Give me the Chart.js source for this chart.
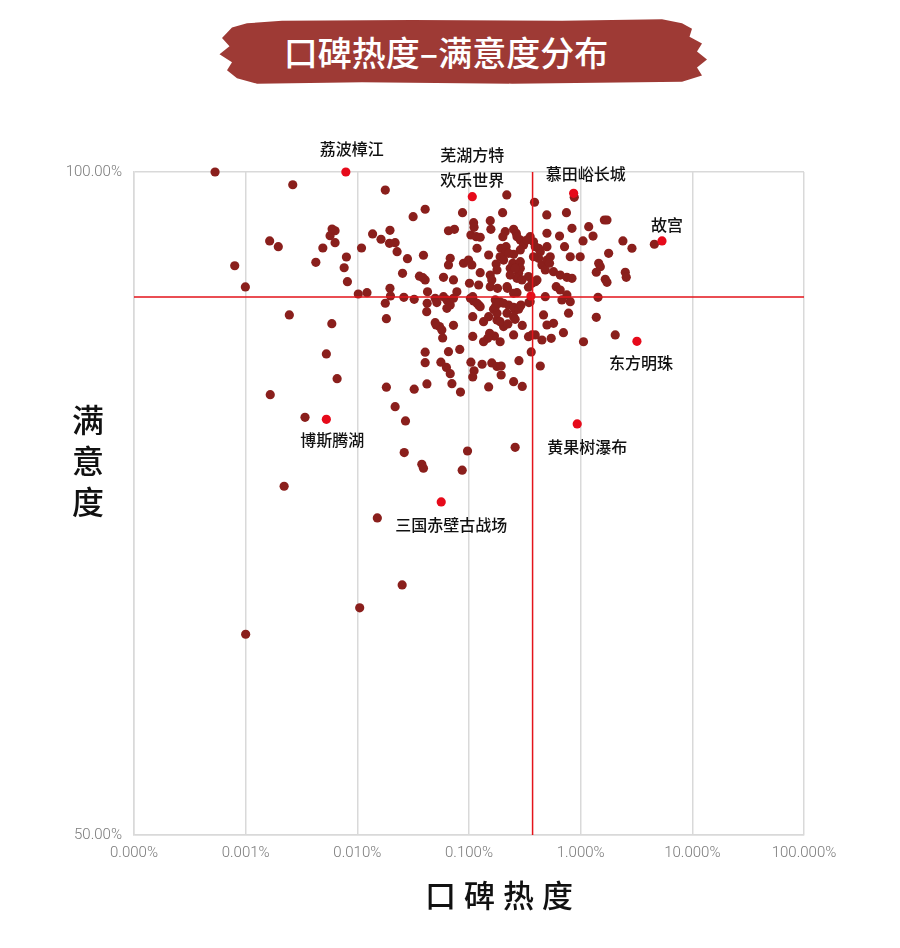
<!DOCTYPE html>
<html>
<head>
<meta charset="utf-8">
<script src="https://cdn.jsdelivr.net/npm/chart.js@4.4.1/dist/chart.umd.min.js"></script>
<style>
  body { margin:0; background:#fff; width:900px; height:948px; position:relative; overflow:hidden;
         font-family:"Noto Sans CJK SC", sans-serif; }
  #banner { position:absolute; left:212px; top:18px; width:500px; height:67px; background:#9e3a35;
            clip-path:polygon(4% 14%, 7% 8%, 14% 4%, 40% 3%, 70% 4%, 90% 2%, 94% 8%, 96% 16%, 95.5% 28%, 98% 38%, 97% 50%,
                              99% 62%, 97% 74%, 98% 86%, 94% 95%, 60% 98%, 30% 96%, 9% 98%, 5% 90%,
                              3% 78%, 4% 66%, 1.5% 54%, 3.5% 42%, 2% 30%); }
  #title { position:absolute; left:222px; top:20px; width:448px; height:64px; line-height:64px;
           text-align:center; color:#fff; font-size:34px; font-weight:500; }
  #wrap { position:absolute; left:0; top:0; width:900px; height:948px; }
  #xTitle { position:absolute; left:0; top:871px; width:1006px; text-align:center;
            font-size:31px; font-weight:500; letter-spacing:8px; color:#111; }
  #yTitle { position:absolute; left:65px; top:404px; writing-mode:vertical-rl;
            font-size:32px; font-weight:500; letter-spacing:9px; color:#111; }
</style>
</head>
<body>
<div id="banner"></div>
<div id="title">口碑热度–满意度分布</div>
<div id="wrap"><canvas id="chart" width="900" height="948"></canvas></div>
<div id="xTitle">口碑热度</div>
<div id="yTitle">满意度</div>

<script>
// x = 口碑热度 (%), y = 满意度 (%)
const xTicks = [0.0001, 0.001, 0.01, 0.1, 1, 10, 100];
const heatAvg = 0.371;
const satAvg  = 90.57;

const heatPct = [
  0.000532, 0.00264, 0.00164, 0.00196, 0.000798, 0.000994, 0.00246, 0.00591, 0.00425, 0.00491,
  0.00632, 0.0057, 0.00632, 0.00594, 0.00528, 0.00659, 0.00166, 0.0034, 0.00815, 0.0102,
  0.0122, 0.00798, 0.00762, 0.0178, 0.0137, 0.0163, 0.0196, 0.0194, 0.0218, 0.0227,
  0.0109, 0.0281, 0.0391, 0.0254, 0.036, 0.0405, 0.0316, 0.0405, 0.0196, 0.0198,
  0.0178, 0.0182, 0.0261, 0.0323, 0.0422, 0.0418, 0.0405, 0.0405, 0.042, 0.0182,
  0.0323, 0.0218, 0.027, 0.0263, 0.0378, 0.0391, 0.097, 0.0869, 0.259, 0.0151,
  0.00221, 0.0252, 0.0105, 0.001, 0.0386, 0.0875, 0.218, 0.386, 0.2, 0.497,
  0.746, 0.11, 0.111, 0.104, 0.116, 0.126, 0.155, 0.157, 0.0655, 0.0741,
  0.211, 0.201, 0.251, 0.265, 0.118, 0.15, 0.193, 0.215, 0.211, 0.19,
  0.204, 0.288, 0.308, 0.288, 0.353, 0.378, 0.42, 0.435, 0.499, 0.499,
  0.251, 0.247, 0.288, 0.288, 0.278, 0.269, 0.341, 0.392, 0.42, 0.45,
  0.482, 0.499, 0.0679, 0.0655, 0.0893, 0.099, 0.106, 0.175, 0.178, 0.126,
  0.155, 0.16, 0.155, 0.234, 0.234, 0.101, 0.122, 0.18, 0.221, 0.0591,
  0.0726, 0.0779, 0.269, 0.341, 0.482, 0.0498, 0.0515, 0.0634, 0.0679, 0.0726,
  0.103, 0.11, 0.122, 0.172, 0.19, 0.226, 0.288, 0.0634, 0.0591, 1.63,
  1.72, 1.18, 0.836, 0.647, 1.05, 1.29, 2.39, 2.88, 1.78, 0.717,
  0.807, 0.99, 1.45, 1.5, 1.38, 2.51, 2.56, 1.66, 1.72, 0.534,
  0.526, 0.571, 0.656, 0.753, 0.836, 0.604, 0.656, 0.753, 0.807, 0.679,
  1.43, 0.779, 0.465, 1.38, 0.499, 0.571, 0.701, 2.04, 0.392, 0.226,
  0.269, 0.33, 0.378, 0.406, 0.366, 0.259, 0.298, 0.219, 0.251, 0.219,
  0.259, 0.353, 0.366, 0.251, 0.204, 1.06, 0.545, 0.45, 0.392, 0.341,
  0.361, 0.435, 0.3, 0.251, 0.28, 0.3, 0.251, 0.19, 0.169, 0.153,
  0.147, 0.135, 0.135, 0.15, 0.166, 0.178, 0.19, 0.108, 0.108, 0.108,
  0.104, 0.131, 0.16, 0.178, 0.194, 0.194, 0.111, 0.108, 0.15, 0.0826,
  0.0655, 0.0726, 0.0581, 0.0508, 0.0544, 0.0498, 0.0571, 0.056, 0.0628, 0.0679,
  0.0703, 0.0839, 0.0425, 0.126, 0.118, 0.178, 0.172, 0.184, 0.204, 0.251,
  0.278, 0.292, 0.344, 0.223, 0.259, 0.876, 4.57
];
const satisfaction = [
  100, 99.04, 94.80, 94.37, 92.93, 91.33, 89.22, 88.56, 93.19, 94.27,
  95.57, 95.20, 94.67, 95.70, 86.28, 84.41, 83.21, 81.50, 91.73, 90.80,
  90.90, 93.59, 92.78, 98.64, 95.33, 94.93, 95.60, 94.62, 94.67, 93.99,
  94.27, 93.46, 93.72, 92.36, 92.14, 91.86, 96.63, 97.19, 91.23, 90.65,
  90.10, 88.94, 90.55, 90.40, 90.10, 89.47, 86.41, 85.62, 84.02, 83.77,
  83.62, 82.30, 81.23, 78.84, 77.96, 77.66, 78.96, 77.51, 79.24, 73.91,
  76.30, 68.86, 67.13, 65.14, 92.03, 96.93, 98.27, 97.72, 96.93, 96.76,
  96.93, 96.18, 95.83, 95.25, 95.12, 95.08, 96.33, 95.68, 95.57, 95.68,
  95.50, 95.12, 95.68, 95.38, 94.25, 93.74, 94.25, 94.37, 93.87, 93.61,
  93.36, 94.87, 94.50, 94.12, 95.12, 94.74, 94.25, 93.99, 95.38, 94.37,
  93.79, 93.12, 93.24, 92.74, 92.36, 91.98, 92.11, 91.73, 93.49, 92.99,
  92.61, 93.36, 93.49, 92.99, 93.12, 93.36, 92.99, 93.06, 92.61, 92.41,
  92.23, 91.86, 91.35, 92.74, 92.23, 91.61, 91.48, 91.23, 91.23, 92.06,
  91.86, 90.97, 90.90, 91.31, 90.60, 90.48, 90.15, 90.35, 89.97, 90.48,
  90.48, 90.27, 89.97, 90.35, 90.20, 89.97, 89.90, 89.72, 90.60, 96.38,
  96.38, 95.88, 95.75, 95.17, 94.80, 95.17, 94.80, 94.25, 93.87, 94.37,
  93.61, 93.61, 93.12, 92.86, 92.44, 92.44, 92.06, 91.91, 91.68, 93.61,
  93.12, 92.48, 92.23, 92.06, 91.98, 91.35, 91.10, 90.73, 90.22, 90.35,
  90.55, 89.35, 89.22, 89.04, 88.46, 88.59, 87.88, 87.71, 94.37, 93.87,
  95.12, 94.87, 93.61, 91.86, 91.61, 92.74, 91.86, 91.35, 90.85, 89.35,
  89.59, 90.22, 87.71, 87.71, 88.34, 87.20, 87.46, 87.33, 87.71, 87.58,
  86.43, 85.37, 83.83, 84.19, 85.77, 88.43, 89.09, 87.20, 87.63, 87.84,
  87.46, 87.20, 88.71, 89.09, 89.65, 88.84, 88.71, 89.09, 90.60, 87.60,
  85.66, 85.50, 85.60, 85.33, 85.37, 84.69, 85.01, 84.54, 83.79, 86.62,
  86.45, 88.44, 87.48, 88.46, 88.35, 88.64, 88.09, 85.66, 85.26, 84.79,
  84.04, 83.40, 90.97, 89.84, 90.10, 89.35, 89.84, 90.10, 90.10, 89.80,
  89.65, 89.97, 90.15, 88.54, 88.89, 98.09, 94.55
];

// highlighted spots
const hotNames = ['荔波樟江', '芜湖方特\n欢乐世界', '慕田峪长城', '故宫', '东方明珠', '黄果树瀑布', '三国赤壁古战场', '博斯腾湖', ''];
const hotHeat  = [0.00789, 0.107, 0.865, 5.35, 3.19, 0.931, 0.0564, 0.00528, 0.359];
const hotSat   = [100, 98.14, 98.39, 94.80, 87.23, 81.00, 75.12, 81.35, 90.65];
// label placement relative to the point (px)
const labelOffsets = [[6, -23], [0, -42], [12, -19], [5, -16], [4, 22], [10, 23], [10, 23], [6, 21], [0, 0]];

const overlay = {
  id: 'overlay',
  afterDatasetsDraw(c) {
    const { ctx, chartArea: a, scales: { x, y } } = c;
    ctx.save();
    ctx.strokeStyle = '#e4141b';
    ctx.lineWidth = 1.5;
    const px = x.getPixelForValue(heatAvg), py = y.getPixelForValue(satAvg);
    ctx.beginPath();
    ctx.moveTo(px, a.top);  ctx.lineTo(px, a.bottom);
    ctx.moveTo(a.left, py); ctx.lineTo(a.right, py);
    ctx.stroke();

    ctx.fillStyle = '#111';
    ctx.font = '500 16px "Noto Sans CJK SC"';
    ctx.textAlign = 'center';
    ctx.textBaseline = 'middle';
    hotNames.forEach((n, i) => {
      if (!n) return;
      const [dx, dy] = labelOffsets[i];
      const bx = x.getPixelForValue(hotHeat[i]) + dx;
      const by = y.getPixelForValue(hotSat[i]) + dy;
      n.split('\n').forEach((t, j) => ctx.fillText(t, bx, by + j * 25));
    });
    ctx.restore();
  }
};

const tickFont = { family: 'Roboto', size: 15, weight: 300 };

new Chart(document.getElementById('chart').getContext('2d'), {
  type: 'scatter',
  data: {
    datasets: [
      {
        data: hotHeat.map((v, i) => ({ x: v, y: hotSat[i] })),
        backgroundColor: '#e60a1a',
        borderWidth: 0,
        pointRadius: 4.6,
        clip: false,
      },
      {
        data: heatPct.map((v, i) => ({ x: v, y: satisfaction[i] })),
        backgroundColor: '#8a1f1c',
        borderWidth: 0,
        pointRadius: 4.6,
        clip: false,
      },
    ],
  },
  options: {
    responsive: false,
    animation: false,
    layout: { padding: { left: 0, top: 172, right: 96, bottom: 73 } },
    plugins: { legend: { display: false }, tooltip: { enabled: false } },
    scales: {
      x: {
        type: 'logarithmic',
        min: 0.0001,
        max: 100,
        afterBuildTicks: s => { s.ticks = xTicks.map(v => ({ value: v })); },
        afterFit: s => { s.height = 40; },
        ticks: {
          callback: v => Number(v).toFixed(3) + '%',
          color: '#7a7a7a', font: tickFont, padding: 9,
          maxRotation: 0, autoSkip: false,
        },
        grid: { color: '#d9d9d9', lineWidth: 1.5, drawTicks: false },
        border: { color: '#d9d9d9', width: 1.5 },
      },
      y: {
        min: 50,
        max: 100,
        afterFit: s => { s.width = 134; },
        ticks: {
          stepSize: 50,
          callback: v => Number(v).toFixed(2) + '%',
          color: '#7a7a7a', font: tickFont, padding: 12,
        },
        grid: { color: '#d9d9d9', lineWidth: 1.5, drawTicks: false },
        border: { color: '#d9d9d9', width: 1.5 },
      },
    },
  },
  plugins: [overlay],
});
</script>
</body>
</html>
